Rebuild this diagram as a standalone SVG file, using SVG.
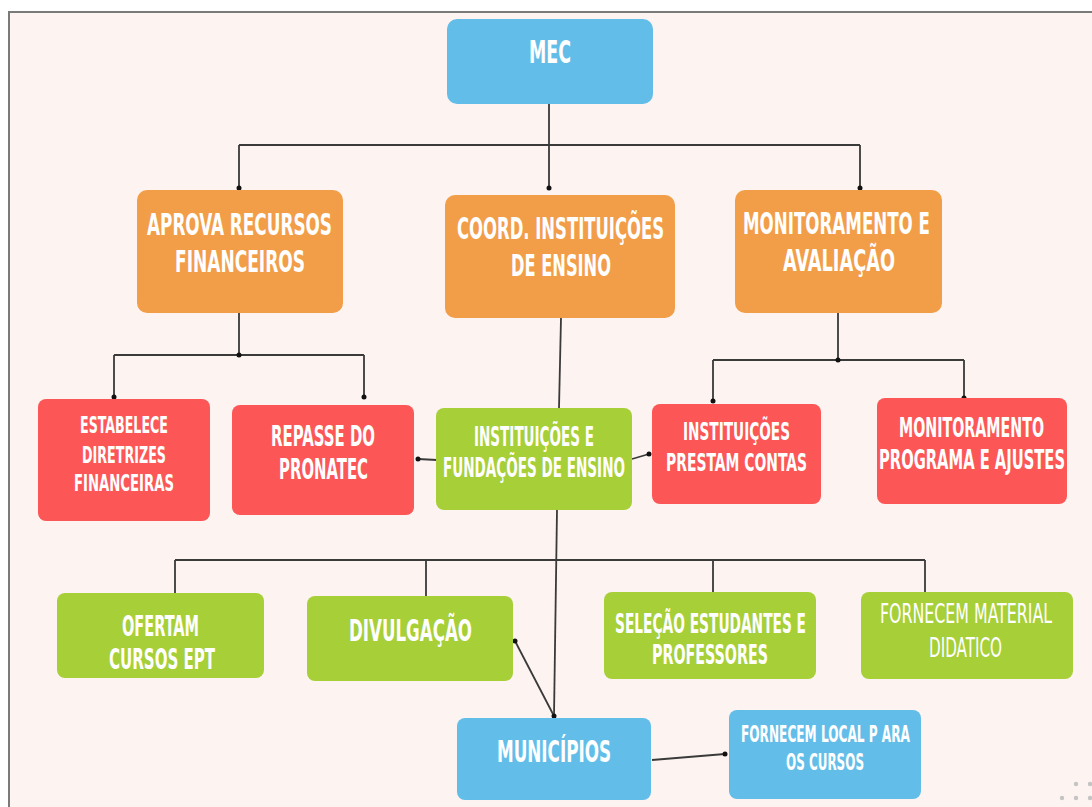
<svg xmlns="http://www.w3.org/2000/svg" width="1092" height="807" viewBox="0 0 1092 807">
<style>
.t{font-family:"Liberation Sans Narrow","DejaVu Sans Condensed","Liberation Sans",sans-serif;font-weight:bold;fill:#fff;text-anchor:middle}
.l{font-weight:normal}
.c{fill:none;stroke:#3a3a3a;stroke-width:1.8}
.d{fill:#111}
.o{fill:#f29d48}.r{fill:#fc5656}.g{fill:#a7cf38}.b{fill:#62bee9}
</style>
<rect width="1092" height="807" fill="#fff"/>
<rect x="9" y="12" width="1100" height="810" fill="#fdf4f1" stroke="#7a7a7a" stroke-width="2"/>
<g id="connectors">
<path class="c" d="M549,104V145M239,145H860M239,145V188M549,145V188M860,145V188"/>
<path class="c" d="M239,313V355M114,355H364M114,355V397M364,355V397"/>
<path class="c" d="M561,318L559,408"/>
<path class="c" d="M838,313V360M713,360H964M713,360V401M964,360V398"/>
<path class="c" d="M437,460L418,459"/>
<path class="c" d="M632,459L649,454"/>
<path class="c" d="M557,510L554,716"/>
<path class="c" d="M175,560H925M175,560V601M426,560V601M713,560V597M925,560V601"/>
<path class="c" d="M515,641L554,716"/>
<path class="c" d="M652,760L725,754"/>
<g class="d">
<circle cx="239" cy="188" r="2.5"/><circle cx="549" cy="188" r="2.5"/><circle cx="860" cy="188" r="2.5"/>
<circle cx="239" cy="355" r="2.5"/><circle cx="114" cy="397" r="2.5"/><circle cx="364" cy="397" r="2.5"/>
<circle cx="838" cy="360" r="2.5"/><circle cx="713" cy="401" r="2.5"/><circle cx="964" cy="398" r="2.5"/>
<circle cx="418" cy="459" r="2.5"/><circle cx="649" cy="454" r="2.5"/><circle cx="554" cy="716" r="2.5"/>
<circle cx="175" cy="601" r="2.5"/><circle cx="426" cy="601" r="2.5"/><circle cx="713" cy="597" r="2.5"/><circle cx="925" cy="601" r="2.5"/>
<circle cx="515" cy="641" r="2.5"/><circle cx="725" cy="754" r="2.5"/>
</g>
</g>
<g id="mec"><rect class="b" x="447" y="19" width="206" height="85" rx="10"/>
<text class="t" transform="translate(550,63) scale(0.62,1)" font-size="32" textLength="67.7" lengthAdjust="spacingAndGlyphs">MEC</text></g>
<g id="aprova"><rect class="o" x="137" y="190" width="206" height="123" rx="10"/>
<text class="t" transform="translate(239.5,235) scale(0.62,1)" font-size="30" textLength="298.4" lengthAdjust="spacingAndGlyphs">APROVA RECURSOS</text>
<text class="t" transform="translate(240,272) scale(0.62,1)" font-size="30" textLength="209.7" lengthAdjust="spacingAndGlyphs">FINANCEIROS</text></g>
<g id="coord"><rect class="o" x="445" y="195" width="230" height="123" rx="10"/>
<text class="t" transform="translate(560.5,239) scale(0.62,1)" font-size="30" textLength="333.9" lengthAdjust="spacingAndGlyphs">COORD. INSTITUIÇÕES</text>
<text class="t" transform="translate(561,276) scale(0.62,1)" font-size="30" textLength="161.3" lengthAdjust="spacingAndGlyphs">DE ENSINO</text></g>
<g id="monit"><rect class="o" x="735" y="190" width="207" height="123" rx="10"/>
<text class="t" transform="translate(836.5,234) scale(0.62,1)" font-size="30" textLength="301.6" lengthAdjust="spacingAndGlyphs">MONITORAMENTO E</text>
<text class="t" transform="translate(839,271) scale(0.62,1)" font-size="30" textLength="180.6" lengthAdjust="spacingAndGlyphs">AVALIAÇÃO</text></g>
<g id="estabelece"><rect class="r" x="38" y="399" width="172" height="122" rx="8"/>
<text class="t" transform="translate(124,433) scale(0.62,1)" font-size="23" textLength="141.9" lengthAdjust="spacingAndGlyphs">ESTABELECE</text>
<text class="t" transform="translate(124,463) scale(0.62,1)" font-size="23" textLength="135.5" lengthAdjust="spacingAndGlyphs">DIRETRIZES</text>
<text class="t" transform="translate(124,491) scale(0.62,1)" font-size="23" textLength="161.3" lengthAdjust="spacingAndGlyphs">FINANCEIRAS</text></g>
<g id="repasse"><rect class="r" x="232" y="405" width="182" height="110" rx="8"/>
<text class="t" transform="translate(323,446) scale(0.62,1)" font-size="28" textLength="167.7" lengthAdjust="spacingAndGlyphs">REPASSE DO</text>
<text class="t" transform="translate(323.5,479) scale(0.62,1)" font-size="28" textLength="143.5" lengthAdjust="spacingAndGlyphs">PRONATEC</text></g>
<g id="instituicoes-fundacoes"><rect class="g" x="436" y="408" width="196" height="102" rx="8"/>
<text class="t" transform="translate(534,446) scale(0.62,1)" font-size="26" textLength="193.5" lengthAdjust="spacingAndGlyphs">INSTITUIÇÕES E</text>
<text class="t" transform="translate(534,477) scale(0.62,1)" font-size="26" textLength="293.5" lengthAdjust="spacingAndGlyphs">FUNDAÇÕES DE ENSINO</text></g>
<g id="prestam"><rect class="r" x="652" y="404" width="169" height="100" rx="8"/>
<text class="t" transform="translate(736.5,440) scale(0.62,1)" font-size="25" textLength="172.6" lengthAdjust="spacingAndGlyphs">INSTITUIÇÕES</text>
<text class="t" transform="translate(736.5,471) scale(0.62,1)" font-size="25" textLength="227.4" lengthAdjust="spacingAndGlyphs">PRESTAM CONTAS</text></g>
<g id="monit-programa"><rect class="r" x="877" y="398" width="190" height="106" rx="8"/>
<text class="t" transform="translate(971.5,437) scale(0.62,1)" font-size="26" textLength="233.9" lengthAdjust="spacingAndGlyphs">MONITORAMENTO</text>
<text class="t" transform="translate(972,469) scale(0.62,1)" font-size="26" textLength="300" lengthAdjust="spacingAndGlyphs">PROGRAMA E AJUSTES</text></g>
<g id="ofertam"><rect class="g" x="57" y="593" width="207" height="85" rx="8"/>
<text class="t" transform="translate(160.5,636) scale(0.62,1)" font-size="29" textLength="124.2" lengthAdjust="spacingAndGlyphs">OFERTAM</text>
<text class="t" transform="translate(162,669) scale(0.62,1)" font-size="29" textLength="171" lengthAdjust="spacingAndGlyphs">CURSOS  EPT</text></g>
<g id="divulgacao"><rect class="g" x="307" y="596" width="206" height="85" rx="8"/>
<text class="t" transform="translate(410.5,641) scale(0.62,1)" font-size="31" textLength="198.4" lengthAdjust="spacingAndGlyphs">DIVULGAÇÃO</text></g>
<g id="selecao"><rect class="g" x="604" y="592" width="212" height="87" rx="8"/>
<text class="t" transform="translate(710.5,633) scale(0.62,1)" font-size="27" textLength="308.1" lengthAdjust="spacingAndGlyphs">SELEÇÃO ESTUDANTES E</text>
<text class="t" transform="translate(710,664) scale(0.62,1)" font-size="27" textLength="187.1" lengthAdjust="spacingAndGlyphs">PROFESSORES</text></g>
<g id="material"><rect class="g" x="861" y="592" width="212" height="87" rx="8"/>
<text class="t l" transform="translate(966,623) scale(0.62,1)" font-size="27" textLength="277.4" lengthAdjust="spacingAndGlyphs">FORNECEM MATERIAL</text>
<text class="t l" transform="translate(965.5,657) scale(0.62,1)" font-size="27" textLength="117.7" lengthAdjust="spacingAndGlyphs">DIDATICO</text></g>
<g id="municipios"><rect class="b" x="457" y="718" width="194" height="82" rx="8"/>
<text class="t" transform="translate(554,762) scale(0.62,1)" font-size="30" textLength="183.9" lengthAdjust="spacingAndGlyphs">MUNICÍPIOS</text></g>
<g id="local"><rect class="b" x="729" y="710" width="192" height="89" rx="8"/>
<text class="t" transform="translate(825.5,742) scale(0.62,1)" font-size="23" textLength="272.6" lengthAdjust="spacingAndGlyphs">FORNECEM LOCAL P ARA</text>
<text class="t" transform="translate(825,770) scale(0.62,1)" font-size="23" textLength="125.8" lengthAdjust="spacingAndGlyphs">OS CURSOS</text></g>
<g fill="#c4c4c4"><circle cx="1076" cy="784" r="2.2"/><circle cx="1090" cy="784" r="2.2"/><circle cx="1062" cy="798" r="2.2"/><circle cx="1076" cy="798" r="2.2"/><circle cx="1090" cy="798" r="2.2"/></g>
</svg>
